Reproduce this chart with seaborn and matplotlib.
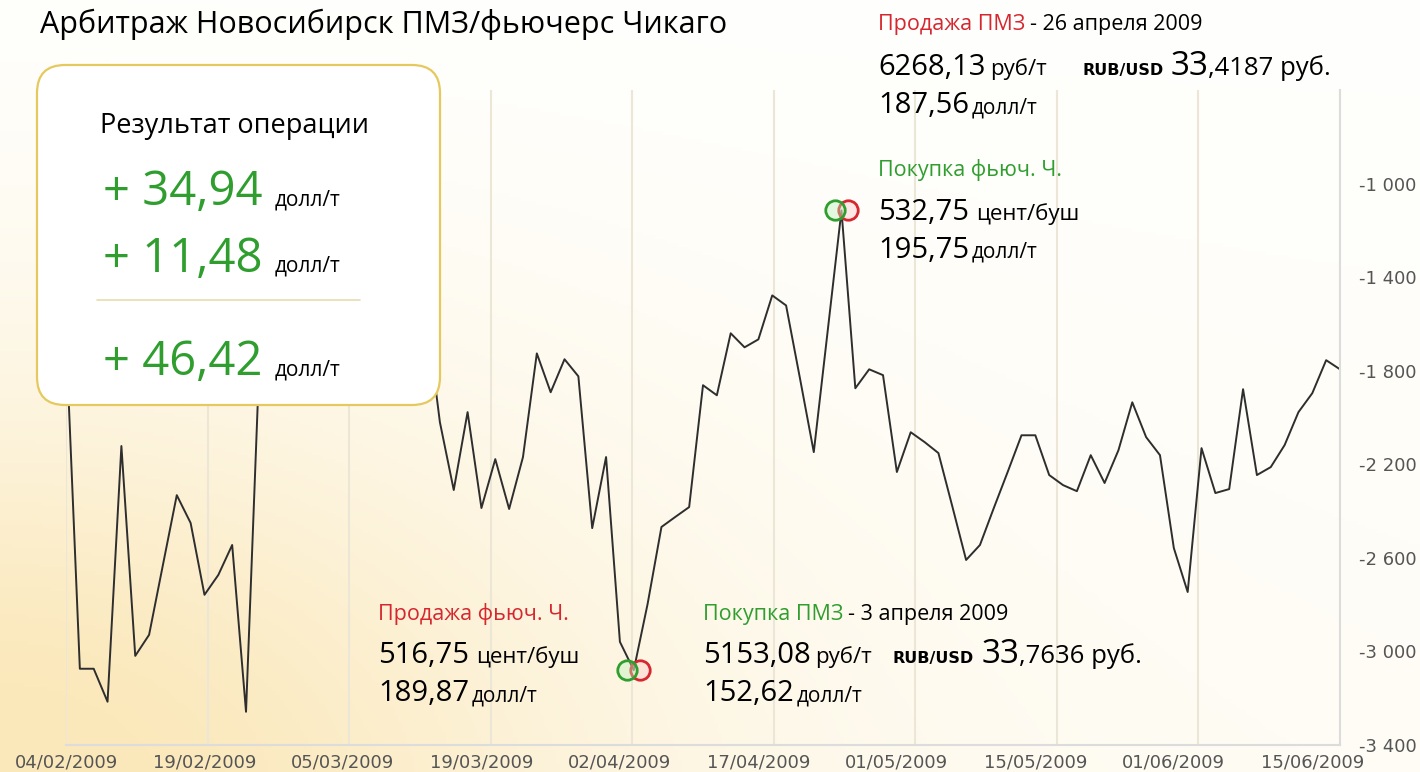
import numpy as np
import seaborn as sns
import matplotlib.pyplot as plt
import matplotlib.transforms as mtrans
from matplotlib.patches import FancyBboxPatch

# spread Novosibirsk wheat vs Chicago futures, one value per trading day
spread = [
    -1650, -3074, -3074, -3215, -2122, -3019, -2929, -2630, -2332, -2451,
    -2758, -2673, -2545, -3258, -1700, -1500, -1350, -1600, -1450, -1250,
    -1550, -1400, -1650, -1500, -1350, -1600, -1550, -2020, -2310, -1977,
    -2387, -2178, -2391, -2169, -1726, -1892, -1751, -1824, -2473, -2169,
    -2959, -3080, -2797, -2468, -2425, -2383, -1862, -1905, -1640, -1700,
    -1666, -1478, -1521, -1832, -2148, -1632, -1115, -1875, -1794, -1819,
    -2233, -2063, -2105, -2152, -2379, -2609, -2545, -2387, -2233, -2076,
    -2076, -2246, -2289, -2315, -2161, -2280, -2140, -1935, -2084, -2161,
    -2558, -2746, -2131, -2323, -2306, -1879, -2246, -2212, -2118, -1977,
    -1896, -1755, -1794,
]
tick_dates = ["04/02/2009", "19/02/2009", "05/03/2009", "19/03/2009", "02/04/2009",
              "17/04/2009", "01/05/2009", "15/05/2009", "01/06/2009", "15/06/2009"]
tick_step = 10
y_ticks = [-1000, -1400, -1800, -2200, -2600, -3000, -3400]
trade_days = [41, 56]  # buy/sell points

result_values = ["+ 34,94", "+ 11,48", "+ 46,42"]

GREEN = "#2f9e2f"
RED = "#d6262f"
FONT = ["Open Sans", "DejaVu Sans"]

sns.set_style("white")
plt.rcParams["font.family"] = FONT

W, H = 1420, 772
fig = plt.figure(figsize=(W / 100, H / 100), dpi=100)
renderer = fig.canvas.get_renderer()

# warm background glow from bottom-left corner
bg = fig.add_axes([0, 0, 1, 1], zorder=0)
gx, gy = np.meshgrid(np.linspace(0, 1, 360), np.linspace(0, 1, 200))
w = 0.85 * np.exp(-((gx / 0.42) ** 2 + (gy / 0.5) ** 2)) + 0.2 * (1 - gy) * (0.6 + 0.4 * (1 - gx))
w = np.clip(w, 0, 1)[..., None]
white = np.array([255, 255, 253]) / 255
yellow = np.array([251, 232, 186]) / 255
bg.imshow(white * (1 - w) + yellow * w, extent=[0, 1, 0, 1], aspect="auto", origin="lower")
bg.axis("off")

ax = fig.add_axes([66 / W, 27 / H, 1274 / W, 655 / H], zorder=1)
ax.set_facecolor("none")

n = len(spread)
for k in range(10):
    ax.axvline((n - 1) / 9 * k, color="#ebe6d6", lw=1.5, zorder=0)

sns.lineplot(x=np.arange(n), y=spread, ax=ax, color="#2e2e2e", lw=1.4, zorder=2)

for idx in trade_days:
    for dx, col, face in [(6.5, RED, (1, 0.78, 0.78, 0.4)), (-6.5, GREEN, (0.72, 0.95, 0.72, 0.4))]:
        tr = mtrans.offset_copy(ax.transData, fig=fig, x=dx, y=0, units="dots")
        ax.plot(idx, spread[idx], "o", ms=14, mfc=face, mec=col, mew=2, transform=tr, zorder=3)

ax.set_xlim(0, n - 1)
ax.set_ylim(-3400, -600)
ax.set_xticks(range(0, len(tick_dates) * tick_step, tick_step))
ax.set_xticklabels(tick_dates, fontsize=13, color="#555555", family="DejaVu Sans")
ax.yaxis.tick_right()
ax.set_yticks(y_ticks)
ax.set_yticklabels([f"{v:,}".replace(",", " ") for v in y_ticks],
                   fontsize=13, color="#555555", family="DejaVu Sans")
ax.tick_params(axis="x", length=0, pad=6)
ax.tick_params(axis="y", length=0, pad=14)
for s in ["top", "left"]:
    ax.spines[s].set_visible(False)
for s in ["right", "bottom"]:
    ax.spines[s].set_color("#dcdcdc")
    ax.spines[s].set_linewidth(1.5)
ax.set_xlabel("")
ax.set_ylabel("")

# overlay in pixel coordinates for the texts and the result box
ov = fig.add_axes([0, 0, 1, 1], zorder=3)
ov.set_xlim(0, W)
ov.set_ylim(H, 0)
ov.axis("off")


def put(x, y, s, size, color="black", **kw):
    t = ov.text(x, y, s, fontsize=size, color=color, va="baseline", ha="left", **kw)
    return t.get_window_extent(renderer).x1


def line(x, y, pieces):
    # pieces: (text, size, color, gap before, extra kwargs)
    for s, size, color, gap, kw in pieces:
        x = put(x + gap, y, s, size, color, **kw)
    return x


NUM, UNIT, SMALL, HEAD = 21, 16, 15, 15.5
bold_dv = dict(family="DejaVu Sans", weight="bold")

put(40, 33, "Арбитраж Новосибирск ПМЗ/фьючерс Чикаго", 22)

box = FancyBboxPatch((37, 65), 403, 340, boxstyle="round,pad=0,rounding_size=28",
                     fc="white", ec="#e6c95e", lw=1.6)
ov.add_patch(box)
put(100, 133, "Результат операции", 19.5)
for val, base in zip(result_values, [205, 272, 375]):
    put(103, base, val, 34, GREEN)
    put(275, base, "долл/т", 15)
ov.plot([97, 360], [300, 300], color="#e6dcb0", lw=1.2)

# sell wheat / buy futures (top)
line(878, 30, [("Продажа ПМЗ", HEAD, RED, 0, {}), ("- 26 апреля 2009", HEAD, "black", 5, {})])
line(878, 75, [("6268,13", NUM, "black", 0, {}), ("руб/т", UNIT, "black", 5, {})])
line(1082, 75, [("RUB/USD", 11.5, "black", 0, bold_dv), ("33", 24, "black", 7, {}),
                (",4187 руб.", 18.5, "black", 0, {})])
line(878, 113, [("187,56", NUM, "black", 0, {}), ("долл/т", SMALL, "black", 3, {})])
put(878, 176, "Покупка фьюч. Ч.", HEAD, GREEN)
line(878, 220, [("532,75", NUM, "black", 0, {}), ("цент/буш", UNIT, "black", 7, {})])
line(878, 258, [("195,75", NUM, "black", 0, {}), ("долл/т", SMALL, "black", 3, {})])

# sell futures / buy wheat (bottom)
put(378, 620, "Продажа фьюч. Ч.", HEAD, RED)
line(378, 663, [("516,75", NUM, "black", 0, {}), ("цент/буш", UNIT, "black", 7, {})])
line(378, 701, [("189,87", NUM, "black", 0, {}), ("долл/т", SMALL, "black", 3, {})])
line(703, 620, [("Покупка ПМЗ", HEAD, GREEN, 0, {}), ("- 3 апреля 2009", HEAD, "black", 5, {})])
line(703, 663, [("5153,08", NUM, "black", 0, {}), ("руб/т", UNIT, "black", 4, {})])
line(893, 663, [("RUB/USD", 11.5, "black", 0, bold_dv), ("33", 24, "black", 7, {}),
                (",7636 руб.", 18.5, "black", 0, {})])
line(703, 701, [("152,62", NUM, "black", 0, {}), ("долл/т", SMALL, "black", 3, {})])

fig.savefig("out.png", dpi=100)
